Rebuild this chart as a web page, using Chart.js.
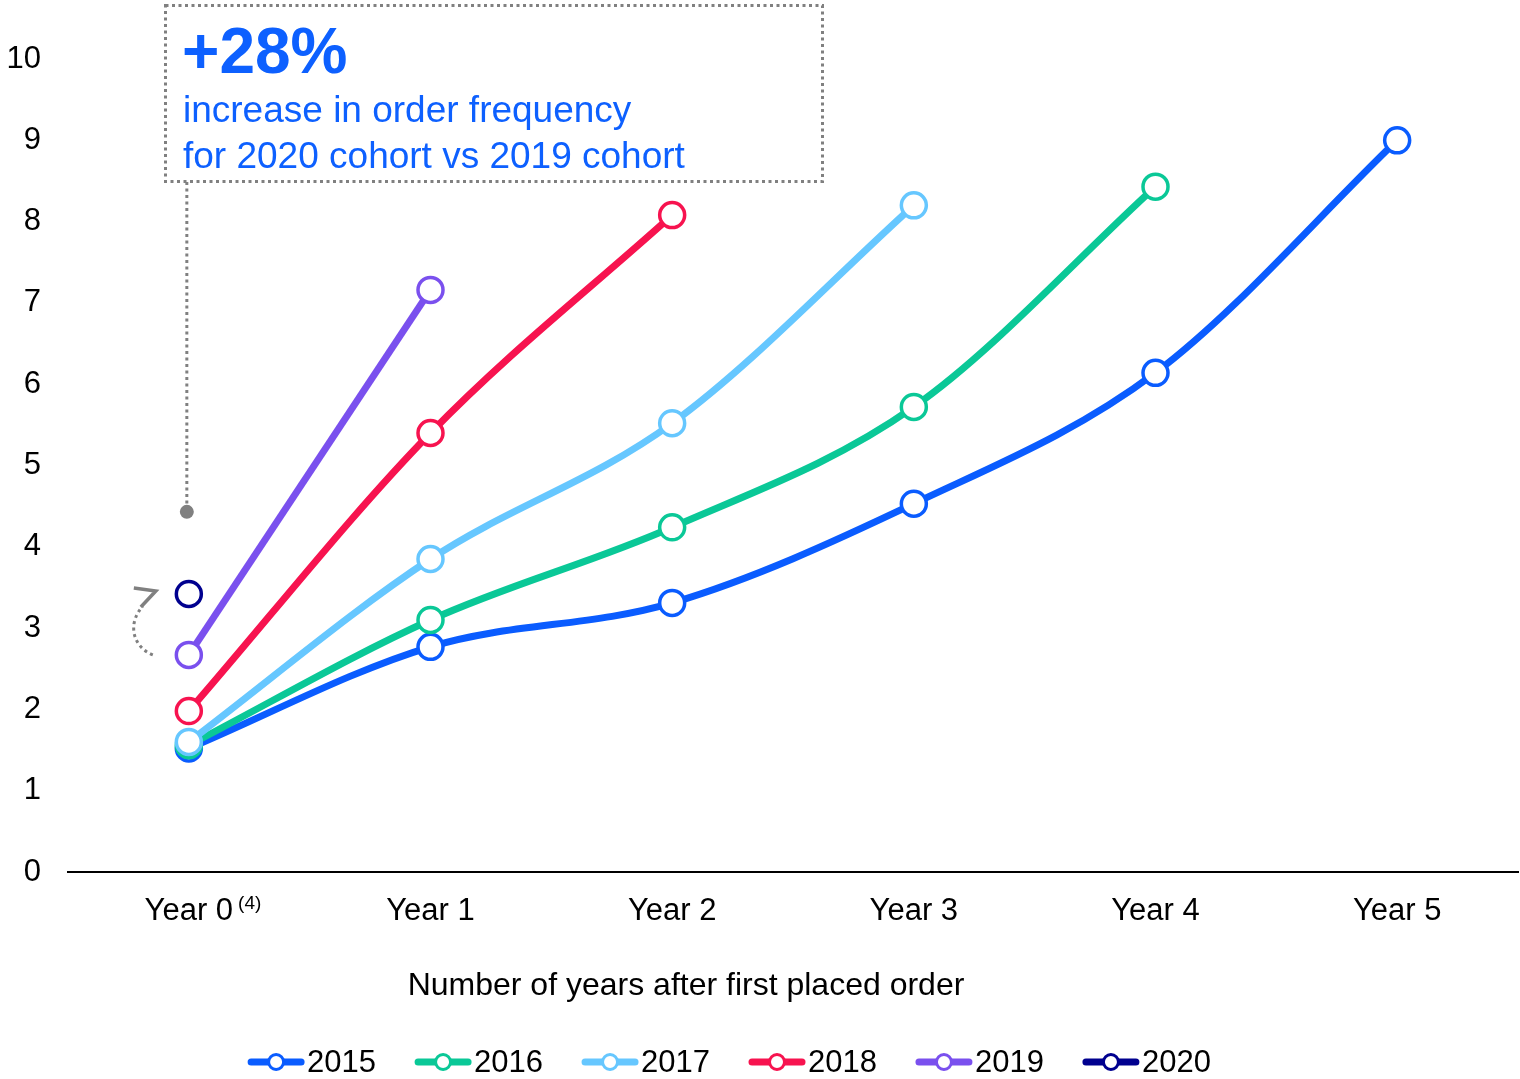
<!DOCTYPE html>
<html>
<head>
<meta charset="utf-8">
<script src="https://cdn.jsdelivr.net/npm/chart.js@4/dist/chart.umd.min.js"></script>
<style>
  html, body { margin: 0; padding: 0; background: #ffffff; }
  #wrap { width: 1520px; height: 1079px; }
</style>
</head>
<body>
<div id="wrap"><canvas id="c" width="1520" height="1079"></canvas></div>
<script>
// Average number of orders per customer, by cohort and years since first order
const categories = ['Year 0', 'Year 1', 'Year 2', 'Year 3', 'Year 4', 'Year 5'];
const cohorts = ['2015', '2016', '2017', '2018', '2019', '2020'];
const values2015 = [1.52, 2.77, 3.31, 4.53, 6.14, 9.0];
const values2016 = [1.56, 3.10, 4.24, 5.72, 8.43];
const values2017 = [1.60, 3.85, 5.52, 8.20];
const values2018 = [1.98, 5.40, 8.08];
const values2019 = [2.67, 7.16];
const values2020 = [3.42];
const yTicks = [0, 1, 2, 3, 4, 5, 6, 7, 8, 9, 10];
const calloutValue = 4.43;

const seriesValues = [values2015, values2016, values2017, values2018, values2019, values2020];
const colors = ['#0a5cff', '#0ac897', '#66c7ff', '#f7134f', '#7a50ee', '#00008f'];
const drawOrder = [5, 4, 3, 2, 1, 0];

const FONT = '"Liberation Sans", Arial, sans-serif';
const BLUE_TEXT = '#0d60ff';
const GREY = '#808080';

const datasets = cohorts.map((name, i) => ({
  label: name,
  data: seriesValues[i],
  borderColor: colors[i],
  backgroundColor: '#ffffff',
  borderWidth: 7,
  pointRadius: 12.5,
  pointHoverRadius: 12.5,
  pointBorderWidth: 3.5,
  pointBackgroundColor: '#ffffff',
  pointBorderColor: colors[i],
  cubicInterpolationMode: 'monotone',
  fill: false,
  order: drawOrder[i]
}));

// Callout box, leader line, curved arrow, superscript, axis title and legend
const extras = {
  id: 'extras',
  afterDraw(chart) {
    const ctx = chart.ctx;
    const xs = chart.scales.x;
    const ys = chart.scales.y;
    const area = chart.chartArea;
    const x0 = xs.getPixelForValue(0);

    ctx.save();

    // dotted callout box
    ctx.strokeStyle = GREY;
    ctx.lineWidth = 3;
    ctx.setLineDash([3, 3.5]);
    ctx.lineCap = 'butt';
    ctx.strokeRect(165.5, 5.5, 657, 176);

    // leader from the box down to the marker
    const dotY = ys.getPixelForValue(calloutValue);
    ctx.beginPath();
    ctx.moveTo(x0 - 2, 182);
    ctx.lineTo(x0 - 2, dotY);
    ctx.stroke();
    ctx.setLineDash([]);
    ctx.fillStyle = GREY;
    ctx.beginPath();
    ctx.arc(x0 - 2, dotY, 7, 0, Math.PI * 2);
    ctx.fill();

    // curved arrow from the 2019 to the 2020 starting point
    const yFrom = ys.getPixelForValue(values2019[0]);
    const yTo = ys.getPixelForValue(values2020[0]);
    ctx.strokeStyle = GREY;
    ctx.lineWidth = 3;
    ctx.setLineDash([3, 3.5]);
    ctx.beginPath();
    ctx.moveTo(x0 - 36, yFrom);
    ctx.bezierCurveTo(x0 - 56, yFrom - 8, x0 - 62, yTo + 30, x0 - 46, yTo + 12);
    ctx.stroke();
    ctx.setLineDash([]);
    ctx.lineWidth = 3.5;
    ctx.lineJoin = 'miter';
    ctx.beginPath();
    ctx.moveTo(x0 - 55, yTo - 6);
    ctx.lineTo(x0 - 33, yTo - 3);
    ctx.lineTo(x0 - 48, yTo + 13);
    ctx.stroke();

    // callout text
    ctx.fillStyle = BLUE_TEXT;
    ctx.textAlign = 'left';
    ctx.textBaseline = 'alphabetic';
    ctx.font = 'bold 64px ' + FONT;
    ctx.fillText('+28%', 182, 73);
    ctx.font = '37px ' + FONT;
    ctx.fillText('increase in order frequency', 183, 122);
    ctx.fillText('for 2020 cohort vs 2019 cohort', 183, 168);

    // superscript on the first category label
    ctx.fillStyle = '#000000';
    ctx.font = '31px ' + FONT;
    const w0 = ctx.measureText(categories[0]).width;
    ctx.font = '19px ' + FONT;
    ctx.fillText('(4)', x0 + w0 / 2 + 5, 909);

    // axis title
    ctx.font = '32px ' + FONT;
    ctx.textAlign = 'center';
    ctx.textBaseline = 'middle';
    ctx.fillText('Number of years after first placed order', area.left + 618, 986);

    // legend
    const segLen = 58, gap = 38, textGap = 2;
    ctx.font = '31px ' + FONT;
    const widths = cohorts.map(n => segLen + textGap + ctx.measureText(n).width);
    const total = widths.reduce((a, b) => a + b, 0) + gap * (cohorts.length - 1);
    let lx = chart.width / 2 - 31 - total / 2;
    const ly = 1062;
    cohorts.forEach((name, i) => {
      ctx.strokeStyle = colors[i];
      ctx.lineWidth = 7;
      ctx.lineCap = 'round';
      ctx.beginPath();
      ctx.moveTo(lx + 4, ly);
      ctx.lineTo(lx + segLen - 4, ly);
      ctx.stroke();
      ctx.lineCap = 'butt';
      ctx.fillStyle = '#ffffff';
      ctx.lineWidth = 3;
      ctx.beginPath();
      ctx.arc(lx + segLen / 2, ly, 7.5, 0, Math.PI * 2);
      ctx.fill();
      ctx.stroke();
      ctx.fillStyle = '#000000';
      ctx.textAlign = 'left';
      ctx.textBaseline = 'middle';
      ctx.fillText(name, lx + segLen + textGap, ly + 1);
      lx += widths[i] + gap;
    });

    ctx.restore();
  }
};

new Chart(document.getElementById('c'), {
  type: 'line',
  data: { labels: categories, datasets },
  plugins: [extras],
  options: {
    responsive: false,
    animation: false,
    devicePixelRatio: 1,
    layout: { autoPadding: false, padding: { top: 59, right: 2, left: 0, bottom: 0 } },
    plugins: {
      legend: { display: false },
      tooltip: { enabled: false }
    },
    scales: {
      x: {
        offset: true,
        grid: { display: false, drawTicks: false },
        border: { display: true, color: '#000000', width: 2 },
        ticks: {
          color: '#000000',
          padding: 21,
          font: { family: FONT, size: 31 }
        },
        afterFit(scale) { scale.height = 207; }
      },
      y: {
        min: 0,
        max: 10,
        grid: { display: false, drawTicks: false },
        border: { display: false },
        afterBuildTicks(scale) { scale.ticks = yTicks.map(v => ({ value: v })); },
        ticks: {
          color: '#000000',
          padding: 27,
          font: { family: FONT, size: 31 }
        },
        afterFit(scale) { scale.width = 68; }
      }
    }
  }
});
</script>
</body>
</html>
